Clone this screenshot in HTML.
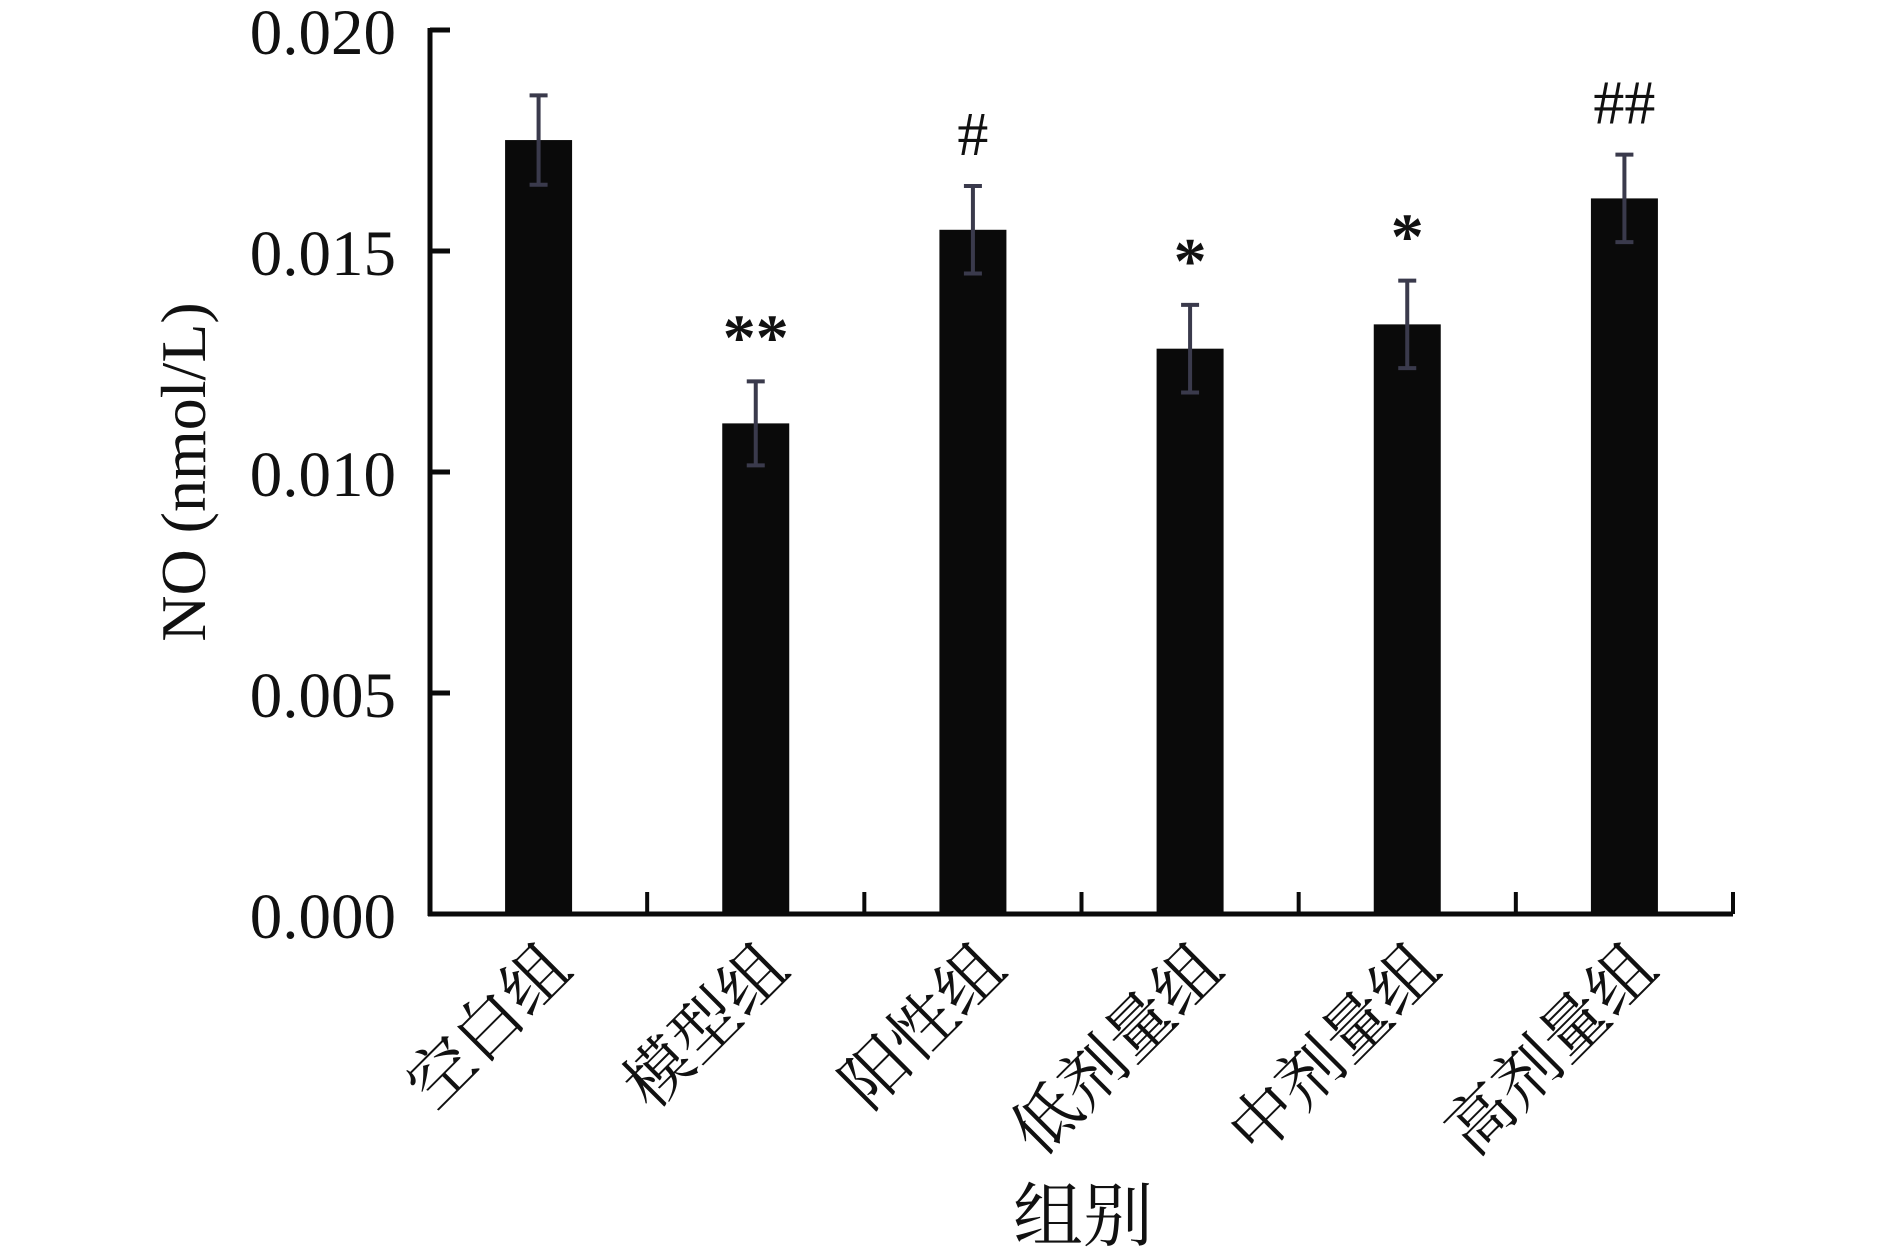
<!DOCTYPE html>
<html><head><meta charset="utf-8"><style>
html,body{margin:0;padding:0;background:#fff}
svg{display:block}
text{font-family:"Liberation Serif","Noto Serif CJK SC","Noto Sans CJK SC",serif;fill:#111}
</style></head><body>
<svg id="chart" width="1890" height="1254" viewBox="0 0 1890 1254" xmlns="http://www.w3.org/2000/svg">
<g id="axes"></g>
<g id="bars"></g>
<text transform="translate(205,472) rotate(-90)" text-anchor="middle" font-size="64">NO (nmol/L)</text>
<text x="1083" y="1240" text-anchor="middle" font-size="70">组别</text>
</svg>
<script>
const categories = ["空白组","模型组","阳性组","低剂量组","中剂量组","高剂量组"];
const values = [0.01751,0.01110,0.01548,0.01279,0.01334,0.01619];
const errors = [0.00101,0.00095,0.00099,0.00099,0.00099,0.00099];
const marks = ["","**","#","*","*","##"];
const yTicks = [0,0.005,0.010,0.015,0.020];
const yTickLabels = ["0.000","0.005","0.010","0.015","0.020"];

const NS="http://www.w3.org/2000/svg";
const x0=430, x1=1733, yTop=30, yBot=914, yMax=0.020;
const band=(x1-x0)/categories.length;
const yScale=v=>yBot-(v/yMax)*(yBot-yTop);
const xCenter=i=>x0+band*(i+0.5);
function mk(tag,attrs,parent){const e=document.createElementNS(NS,tag);for(const k in attrs)e.setAttribute(k,attrs[k]);parent.appendChild(e);return e;}
const axes=document.getElementById('axes'), bars=document.getElementById('bars');

let e=mk('line',{x1:x0,y1:yTop-2,x2:x0,y2:yBot+2,stroke:'#0a0a0a','stroke-width':5},axes);


e=mk('line',{x1:x0-2,y1:yBot,x2:x1,y2:yBot,stroke:'#0a0a0a','stroke-width':5},axes);



yTicks.forEach((t,i)=>{
  const y=yScale(t);
  const l=mk('line',{x1:x0,y1:y,x2:x0+20,y2:y,stroke:'#0a0a0a','stroke-width':5},axes);
  
  
  const tx=mk('text',{x:396,y:y+24,'text-anchor':'end','font-size':65},axes);
  tx.textContent=yTickLabels[i];
  
  
});
for(let i=1;i<=categories.length;i++){
  const x=x0+band*i;
  const l=mk('line',{x1:x,y1:yBot,x2:x,y2:yBot-22,stroke:'#0a0a0a','stroke-width':4},axes);
  
  
}
const bw=67;
categories.forEach((c,i)=>{
  const cx=xCenter(i), y=yScale(values[i]);
  const r=mk('rect',{x:cx-bw/2,y:y,width:bw,height:yBot-y,fill:'#0a0a0a'},bars);
  
  
  const yt=yScale(values[i]+errors[i]), yb=yScale(values[i]-errors[i]);
  const g=mk('g',{stroke:'#3a3a4c','stroke-width':4},bars);
  
  
  mk('line',{x1:cx,y1:yt,x2:cx,y2:yb},g);
  mk('line',{x1:cx-9,y1:yt,x2:cx+9,y2:yt},g);
  mk('line',{x1:cx-9,y1:yb,x2:cx+9,y2:yb},g);
  if(marks[i]){
    const isStar=marks[i].indexOf('*')>=0;
    const m=mk('text',{x:cx,y:yt-(isStar?22:31),'text-anchor':'middle','font-size':isStar?66:62,'font-weight':isStar?'bold':'normal'},bars);
    m.textContent=marks[i];
    
    
  }
  const lb=mk('text',{transform:`translate(${cx+36},972) rotate(-45)`,'text-anchor':'end','font-size':66},bars);
  lb.textContent=c;
  
  
});
</script>
</body></html>
